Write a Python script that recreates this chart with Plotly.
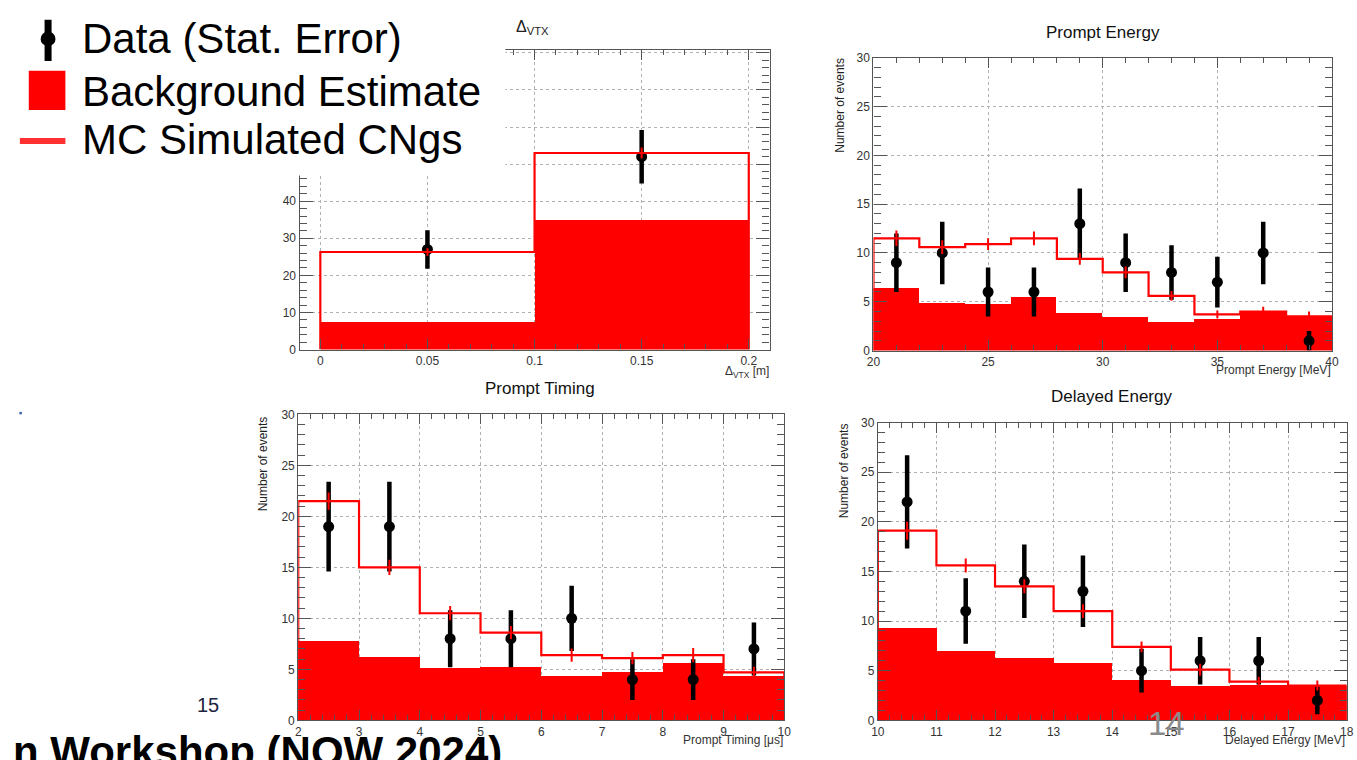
import plotly.graph_objects as go

W, H = 1357, 760

# ---------------- data ----------------
# Delta_VTX
vtx_edges = [0.0, 0.1, 0.2]
vtx_bkg = [7.6, 35.0]
vtx_mc = [26.3, 53.0]
vtx_mc_err = [1.0, 1.5]
vtx_data = [27, 52]
vtx_data_err = [5.2, 7.2]

# Prompt Energy
pe_edges = [20, 22, 24, 26, 28, 30, 32, 34, 36, 38, 40]
pe_bkg = [6.4, 4.9, 4.8, 5.5, 3.9, 3.5, 3.0, 3.3, 4.0, 3.5]
pe_mc = [11.5, 10.6, 10.9, 11.5, 9.4, 8.0, 5.6, 3.7, 4.0, 3.5]
pe_mc_err = [0.8, 0.7, 0.6, 0.7, 0.6, 0.6, 0.5, 0.4, 0.5, 0.5]
pe_data = [9, 10, 6, 6, 13, 9, 8, 7, 10, 1]
pe_data_err = [3.0, 3.2, 2.5, 2.5, 3.6, 3.0, 2.8, 2.6, 3.2, 1.0]

# Prompt Timing
pt_edges = [2, 3, 4, 5, 6, 7, 8, 9, 10]
pt_bkg = [7.7, 6.2, 5.1, 5.2, 4.3, 4.7, 5.6, 4.3]
pt_mc = [21.5, 15.0, 10.5, 8.6, 6.4, 6.1, 6.4, 4.7]
pt_mc_err = [0.85, 0.75, 0.7, 0.65, 0.65, 0.6, 0.7, 0.55]
pt_data = [19, 19, 8, 8, 10, 4, 4, 7]
pt_data_err = [4.4, 4.4, 2.8, 2.8, 3.2, 2.0, 2.0, 2.6]

# Delayed Energy
de_edges = [10, 11, 12, 13, 14, 15, 16, 17, 18]
de_bkg = [9.4, 7.0, 6.3, 5.8, 4.1, 3.5, 3.6, 3.5]
de_mc = [19.1, 15.6, 13.5, 11.0, 7.4, 5.1, 3.9, 3.5]
de_mc_err = [0.9, 0.7, 0.7, 0.7, 0.55, 0.6, 0.5, 0.5]
de_data = [22, 11, 14, 13, 5, 6, 6, 2]
de_data_err = [4.7, 3.3, 3.7, 3.6, 2.2, 2.4, 2.4, 1.4]

legend_labels = ["Data (Stat. Error)", "Background Estimate", "MC Simulated CNgs"]

# ---------------- helpers ----------------
def px(x):
    return x / W

def py(y):
    return 1 - y / H

RED = "#ff0000"
AXC = "#555555"
FAM = "Liberation Sans, Arial, sans-serif"
TFONT = dict(family=FAM, size=12, color="#333333")

panels = [
    dict(edges=vtx_edges, bkg=vtx_bkg, mc=vtx_mc, mcerr=vtx_mc_err, data=vtx_data, derr=vtx_data_err,
         xdom=[px(295.6), px(770.5)], ydom=[py(349), py(43.3)], xr=[-0.0097, 0.2097], yr=[0, 80.9],
         xd=0.05, xm=0.01, yd=10, ym=2),
    dict(edges=pe_edges, bkg=pe_bkg, mc=pe_mc, mcerr=pe_mc_err, data=pe_data, derr=pe_data_err,
         xdom=[px(875.5), px(1338.8)], ydom=[py(350), py(51.7)], xr=[20, 40], yr=[0, 30],
         xd=5, xm=1, yd=5, ym=1),
    dict(edges=pt_edges, bkg=pt_bkg, mc=pt_mc, mcerr=pt_mc_err, data=pt_data, derr=pt_data_err,
         xdom=[px(294.3), px(785.4)], ydom=[py(726.7), py(415)], xr=[2, 10], yr=[0, 30],
         xd=1, xm=0.2, yd=5, ym=1),
    dict(edges=de_edges, bkg=de_bkg, mc=de_mc, mcerr=de_mc_err, data=de_data, derr=de_data_err,
         xdom=[px(879.9), px(1353.6)], ydom=[py(726.7), py(423.3)], xr=[10, 18], yr=[0, 30],
         xd=1, xm=0.2, yd=5, ym=1),
]

fig = go.Figure()
layout = {}

for i, p in enumerate(panels):
    n = i + 1
    xa = "x" if n == 1 else f"x{n}"
    ya = "y" if n == 1 else f"y{n}"
    edges = p["edges"]
    centers = [(edges[k] + edges[k + 1]) / 2 for k in range(len(edges) - 1)]
    widths = [edges[k + 1] - edges[k] for k in range(len(edges) - 1)]

    # background estimate (filled histogram)
    fig.add_trace(go.Bar(x=centers, y=p["bkg"], width=widths, marker=dict(color=RED, line=dict(width=0)),
                         xaxis=xa, yaxis=ya, hoverinfo="skip"))
    # data with statistical errors
    fig.add_trace(go.Scatter(x=centers, y=p["data"], mode="markers",
                             marker=dict(color="black", size=11),
                             error_y=dict(type="data", array=p["derr"], color="black", thickness=4.5, width=0),
                             xaxis=xa, yaxis=ya))
    # MC step outline
    sx = [edges[0]] + list(edges)
    sy = [0] + list(p["mc"]) + [0]
    fig.add_trace(go.Scatter(x=sx, y=sy, mode="lines", line=dict(color=RED, width=2.2, shape="hv"),
                             xaxis=xa, yaxis=ya, hoverinfo="skip"))
    # MC errors
    fig.add_trace(go.Scatter(x=centers, y=p["mc"], mode="markers", marker=dict(size=1, color=RED),
                             error_y=dict(type="data", array=p["mcerr"], color=RED, thickness=2, width=0),
                             xaxis=xa, yaxis=ya, hoverinfo="skip"))

    common = dict(showline=True, linecolor=AXC, linewidth=1.2, mirror="ticks", ticks="inside",
                  tickcolor=AXC, tickfont=TFONT, showgrid=True, gridcolor="#b0b0b0", griddash="dot",
                  gridwidth=1, zeroline=False)
    layout["xaxis" if n == 1 else f"xaxis{n}"] = dict(
        domain=p["xdom"], range=p["xr"], anchor=ya, dtick=p["xd"], tick0=0, ticklen=10,
        minor=dict(dtick=p["xm"], tick0=0, ticks="inside", ticklen=5, tickcolor=AXC, showgrid=False),
        **common)
    layout["yaxis" if n == 1 else f"yaxis{n}"] = dict(
        domain=p["ydom"], range=p["yr"], anchor=xa, dtick=p["yd"], tick0=0, ticklen=13,
        minor=dict(dtick=p["ym"], tick0=0, ticks="inside", ticklen=7, tickcolor=AXC, showgrid=False),
        **common)

fig.update_layout(**layout)

# ---------------- texts ----------------
ann = []
def text(x, y, s, size, color="black", xanchor="center", yanchor="middle", angle=0, bold=False, family=FAM):
    ann.append(dict(x=px(x), y=py(y), xref="paper", yref="paper", text=s, showarrow=False,
                    xanchor=xanchor, yanchor=yanchor, textangle=angle, borderpad=0,
                    font=dict(family=family, size=size, color=color, weight="bold" if bold else "normal")))

# panel titles
text(531, 21, "Δ<sub>VTX</sub>", 16, "#222")
text(1107, 26, "Prompt Energy", 17, "#111")
text(539, 389, "Prompt Timing", 17, "#111")
text(1116, 397, "Delayed Energy", 17, "#111")
# y-axis titles
text(842.3, 100, "Number of events", 12, "#222", angle=-90)
text(259.6, 465, "Number of events", 12, "#222", angle=-90)
text(845.7, 472, "Number of events", 12, "#222", angle=-90)
# x-axis titles
text(771, 372, "Δ<sub>VTX</sub> [m]", 12, "#333", xanchor="right")
text(1338.8, 370, "Prompt Energy [MeV]", 12, "#333", xanchor="right")
text(785.4, 747, "Prompt Timing [μs]", 12, "#333", xanchor="right")
text(1353, 747, "Delayed Energy [MeV]", 12, "#333", xanchor="right")

# legend texts
text(75, 32, legend_labels[0], 42, "black", xanchor="left")
text(75, 86, legend_labels[1], 42, "black", xanchor="left")
text(75, 135, legend_labels[2], 42, "black", xanchor="left")

# slide texts
text(203.5, 711, "15", 20, "#1c2540")
text(501, 758.5, "n Workshop (NOW 2024)", 42, "black", xanchor="right", bold=True)
text(1172, 730, "14", 33, "#8a8a8a")

fig.update_layout(annotations=ann)

# ---------------- shapes (legend box & symbols) ----------------
shapes = [
    # white legend background covering part of first panel
    dict(type="rect", xref="paper", yref="paper", x0=0, x1=px(503.5), y0=py(171.7), y1=1,
         fillcolor="white", line=dict(width=0), layer="above"),
    # data symbol: bar + dot
    dict(type="line", xref="paper", yref="paper", x0=px(41.5), x1=px(41.5), y0=py(13), y1=py(55),
         line=dict(color="black", width=7), layer="above"),
    dict(type="circle", xref="paper", yref="paper", x0=px(34), x1=px(49), y0=py(40), y1=py(25),
         fillcolor="black", line=dict(width=0), layer="above"),
    # background square
    dict(type="rect", xref="paper", yref="paper", x0=px(22), x1=px(59), y0=py(105), y1=py(65),
         fillcolor=RED, line=dict(width=0), layer="above"),
    # MC line
    dict(type="line", xref="paper", yref="paper", x0=px(13), x1=px(59), y0=py(136.5), y1=py(136.5),
         line=dict(color="#ff3030", width=6), layer="above"),
    # tiny dot on slide
    dict(type="rect", xref="paper", yref="paper", x0=px(12.5), x1=px(15), y0=py(415), y1=py(412.5),
         fillcolor="#3a5fb0", line=dict(width=0), layer="above"),
]
fig.update_layout(shapes=shapes)

fig.update_layout(width=W, height=H, margin=dict(l=0, r=0, t=0, b=0),
                  paper_bgcolor="white", plot_bgcolor="white", showlegend=False,
                  bargap=0, barmode="overlay")

fig.write_html("out.html", post_script="document.body.style.margin='0px';")
